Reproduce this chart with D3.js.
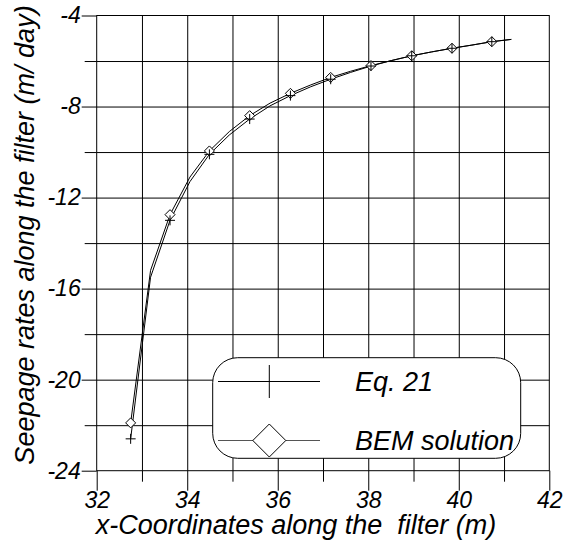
<!DOCTYPE html>
<html>
<head>
<meta charset="utf-8">
<script src="https://cdn.jsdelivr.net/npm/d3@7"></script>
<style>
  body { margin: 0; background: #fff; }
  svg text { font-family: "Liberation Sans", Arial, sans-serif; font-style: italic; fill: #000; }
</style>
</head>
<body>
<div id="chart"></div>
<script>
// x positions along the filter (m)
const xCoords = [32.75, 33.19, 33.62, 34.06, 34.49, 34.93, 35.38, 35.83, 36.28, 36.73,
                 37.17, 37.61, 38.06, 38.51, 38.96, 39.40, 39.85, 40.29, 40.73, 41.16];
// Eq. 21 seepage rates (m/day)
const eq21Values = [-22.6, -15.5, -13.0, -11.3, -10.1, -9.25, -8.55, -7.97, -7.52, -7.13,
                    -6.8, -6.5, -6.22, -5.98, -5.77, -5.6, -5.44, -5.3, -5.15, -5.05];
// BEM solution seepage rates (m/day)
const bemValues = [-21.9, -15.2, -12.75, -11.1, -9.95, -9.1, -8.4, -7.85, -7.42, -7.05,
                   -6.72, -6.45, -6.2, -5.98, -5.77, -5.6, -5.44, -5.3, -5.15, -5.05];

const xMajorTicks = [32, 34, 36, 38, 40, 42];
const xMinorTicks = [33, 35, 37, 39, 41];
const yMajorTicks = [-24, -20, -16, -12, -8, -4];
const yMinorTicks = [-22, -18, -14, -10, -6];
const legendLabels = ["Eq. 21", "BEM solution"];

const svgWidth = 573, svgHeight = 540;
const plotLeft = 96.7, plotRight = 549.3, plotTop = 15.5, plotBottom = 470.7;
const plotW = plotRight - plotLeft, plotH = plotBottom - plotTop;

const svg = d3.select("#chart").append("svg")
    .attr("width", svgWidth)
    .attr("height", svgHeight);

const x = d3.scaleLinear().domain([32, 42]).range([plotLeft, plotRight]);
const y = d3.scaleLinear().domain([-24, -4]).range([plotBottom, plotTop]);

// grid lines
svg.append("g")
    .attr("transform", `translate(0,${plotBottom})`)
    .call(d3.axisBottom(x).tickValues(d3.range(33, 42)).tickSize(-plotH).tickFormat(""))
    .call(g => g.select(".domain").remove());
svg.append("g")
    .attr("transform", `translate(${plotLeft},0)`)
    .call(d3.axisLeft(y).tickValues(d3.range(-22, -4, 2)).tickSize(-plotW).tickFormat(""))
    .call(g => g.select(".domain").remove());

// frame
svg.append("rect")
    .attr("x", plotLeft).attr("y", plotTop)
    .attr("width", plotW).attr("height", plotH)
    .attr("fill", "none").attr("stroke", "#000");

// x axis ticks
svg.append("g")
    .attr("class", "xaxis")
    .attr("transform", `translate(0,${plotBottom})`)
    .call(d3.axisBottom(x).tickValues(xMajorTicks).tickSize(20).tickPadding(1).tickFormat(d => String(d)))
    .call(g => g.select(".domain").remove());
svg.append("g")
    .attr("transform", `translate(0,${plotBottom})`)
    .call(d3.axisBottom(x).tickValues(xMinorTicks).tickSize(11).tickFormat(""))
    .call(g => g.select(".domain").remove());

// y axis ticks
svg.append("g")
    .attr("class", "yaxis")
    .attr("transform", `translate(${plotLeft},0)`)
    .call(d3.axisLeft(y).tickValues(yMajorTicks).tickSize(15).tickPadding(1).tickFormat(d => String(d)))
    .call(g => g.select(".domain").remove());
svg.append("g")
    .attr("transform", `translate(${plotLeft},0)`)
    .call(d3.axisLeft(y).tickValues(yMinorTicks).tickSize(12).tickFormat(""))
    .call(g => g.select(".domain").remove());

svg.selectAll(".tick line").attr("stroke", "#000");
svg.selectAll(".xaxis text, .yaxis text")
    .attr("font-size", 23)
    .style("font-family", "'Liberation Sans', Arial, sans-serif")
    .style("font-style", "italic");

// series lines
const line = d3.line().x((d, i) => x(xCoords[i])).y(d => y(d));
svg.append("path").datum(eq21Values)
    .attr("d", line).attr("fill", "none").attr("stroke", "#000").attr("stroke-width", 1);
svg.append("path").datum(bemValues)
    .attr("d", line).attr("fill", "none").attr("stroke", "#000").attr("stroke-width", 1);

// markers every other point
const markIdx = d3.range(0, xCoords.length - 1, 2);
const diamond = (cx, cy, r) => `M${cx},${cy - r}L${cx + r},${cy}L${cx},${cy + r}L${cx - r},${cy}Z`;
const plus = (cx, cy, r) => `M${cx - r},${cy}H${cx + r}M${cx},${cy - r}V${cy + r}`;

svg.selectAll(".bem-mark").data(markIdx).enter().append("path")
    .attr("class", "bem-mark")
    .attr("d", i => diamond(x(xCoords[i]), y(bemValues[i]), 5))
    .attr("fill", "#fff").attr("stroke", "#000");
svg.selectAll(".eq-mark").data(markIdx).enter().append("path")
    .attr("class", "eq-mark")
    .attr("d", i => plus(x(xCoords[i]), y(eq21Values[i]), 5))
    .attr("fill", "none").attr("stroke", "#000");

// legend
const legend = svg.append("g");
legend.append("rect")
    .attr("x", 212.7).attr("y", 357.7)
    .attr("width", 308).attr("height", 100.6)
    .attr("rx", 25).attr("ry", 25)
    .attr("fill", "#fff").attr("stroke", "#000");
legend.append("line")
    .attr("x1", 218).attr("x2", 320).attr("y1", 381.5).attr("y2", 381.5)
    .attr("stroke", "#000");
legend.append("path")
    .attr("d", `M269.3,365V398`).attr("stroke", "#000");
legend.append("line")
    .attr("x1", 218).attr("x2", 320).attr("y1", 440.5).attr("y2", 440.5)
    .attr("stroke", "#555");
legend.append("path")
    .attr("d", diamond(269.3, 440.5, 16.5))
    .attr("fill", "#fff").attr("stroke", "#000");
legend.selectAll("text.lg").data(legendLabels).enter().append("text")
    .attr("class", "lg")
    .attr("x", 355)
    .attr("y", (d, i) => i === 0 ? 390.7 : 450)
    .attr("font-size", 27)
    .text(d => d);

// axis titles
svg.append("text")
    .attr("x", 296).attr("y", 534)
    .attr("text-anchor", "middle")
    .attr("font-size", 27)
    .style("white-space", "pre")
    .text("x-Coordinates along the  filter (m)");
svg.append("text")
    .attr("transform", "translate(34,235) rotate(-90)")
    .attr("text-anchor", "middle")
    .attr("font-size", 27)
    .text("Seepage rates along the filter (m/ day)");
</script>
</body>
</html>
